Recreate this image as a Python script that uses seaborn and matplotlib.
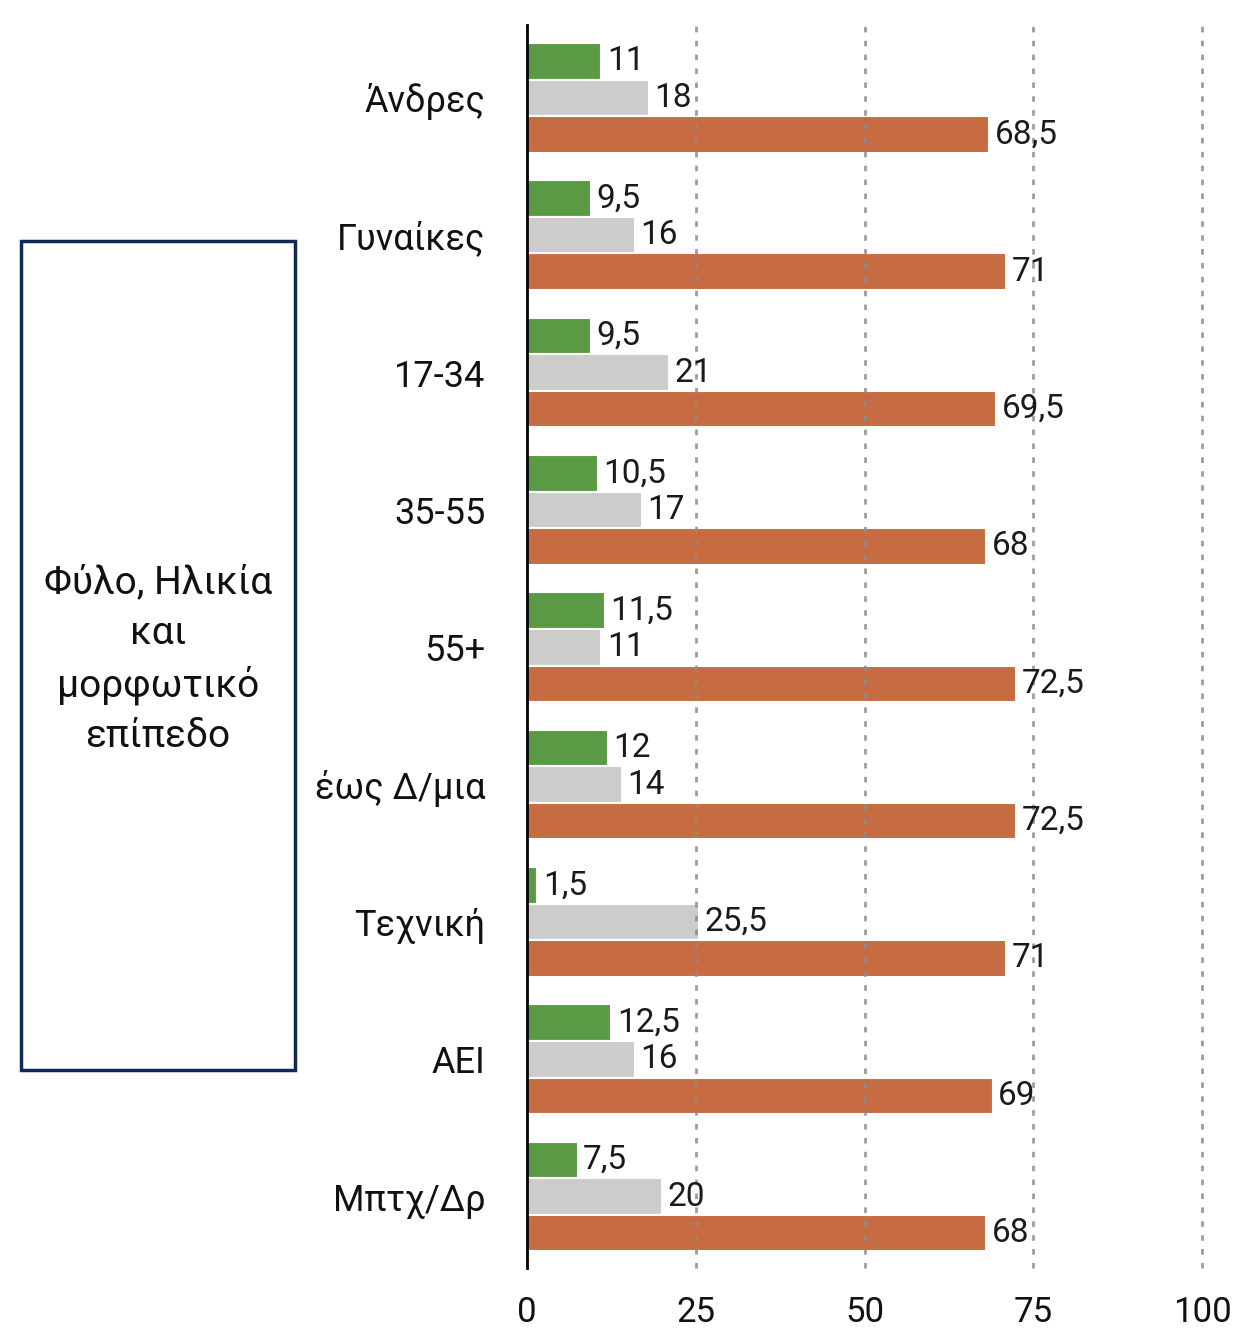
#!/usr/bin/env python3
"""Grouped horizontal bars by gender, age and education level."""

import matplotlib

matplotlib.use("Agg")

import matplotlib.pyplot as plt
import pandas as pd
import seaborn as sns
from matplotlib.patches import Rectangle


CATEGORIES = [
    "Άνδρες",
    "Γυναίκες",
    "17-34",
    "35-55",
    "55+",
    "έως Δ/μια",
    "Τεχνική",
    "ΑΕΙ",
    "Μπτχ/Δρ",
]
SERIES = ["s1", "s2", "s3"]
GREEN_VALUES = [11, 9.5, 9.5, 10.5, 11.5, 12, 1.5, 12.5, 7.5]
GRAY_VALUES = [18, 16, 21, 17, 11, 14, 25.5, 16, 20]
ORANGE_VALUES = [68.5, 71, 69.5, 68, 72.5, 72.5, 71, 69, 68]
X_TICKS = [0, 25, 50, 75, 100]
BOX_TEXT = "Φύλο, Ηλικία\nκαι\nμορφωτικό\nεπίπεδο"

COLORS = ["#5B9A45", "#CCCCCA", "#C76B43"]
FONT = ["Roboto", "DejaVu Sans"]


def build_frame() -> pd.DataFrame:
    rows = []
    for name, values in zip(SERIES, [GREEN_VALUES, GRAY_VALUES, ORANGE_VALUES]):
        for category, value in zip(CATEGORIES, values):
            rows.append({"category": category, "series": name, "value": value})
    return pd.DataFrame(rows)


def fmt(value: float) -> str:
    return f"{value:g}".replace(".", ",")


def main() -> None:
    sns.set_theme(style="white")
    plt.rcParams["font.family"] = FONT

    frame = build_frame()
    fig = plt.figure(figsize=(12.45, 13.33), dpi=100)
    ax = fig.add_axes([0.4233, 0.0488, 0.5422, 0.9324])

    sns.barplot(
        data=frame,
        y="category",
        x="value",
        hue="series",
        order=CATEGORIES,
        hue_order=SERIES,
        palette=COLORS,
        saturation=1,
        orient="h",
        width=0.8,
        edgecolor="white",
        linewidth=1.5,
        legend=False,
        ax=ax,
    )

    for container in ax.containers:
        ax.bar_label(
            container,
            labels=[fmt(bar.get_width()) for bar in container],
            padding=4,
            fontsize=24,
            color="#1A1A1A",
            zorder=5,
        )

    ax.set_xlim(0, 100)
    ax.set_ylim(len(CATEGORIES) - 0.48, -0.53)
    ax.set_xticks(X_TICKS)
    ax.set_xticklabels([str(t) for t in X_TICKS])
    ax.set_xlabel("")
    ax.set_ylabel("")
    ax.tick_params(axis="x", length=0, pad=20, labelsize=25, colors="#111111")
    ax.tick_params(axis="y", length=0, pad=30, labelsize=26, colors="#111111")

    for x in X_TICKS[1:]:
        ax.axvline(x, color="#8C8C8C", linestyle=(0, (2, 3)), linewidth=2,
                   alpha=0.85, zorder=4, clip_on=False)

    for side in ["top", "right", "bottom"]:
        ax.spines[side].set_visible(False)
    ax.spines["left"].set_color("black")
    ax.spines["left"].set_linewidth(2)
    ax.spines["left"].set_zorder(6)

    box = Rectangle(
        (0.0169, 0.1973),
        0.2201,
        0.6219,
        transform=fig.transFigure,
        fill=False,
        edgecolor="#0E2A55",
        linewidth=2.5,
    )
    fig.patches.append(box)
    fig.text(
        0.1269,
        0.505,
        BOX_TEXT,
        ha="center",
        va="center",
        fontsize=28,
        linespacing=1.45,
        color="#111111",
    )

    fig.savefig("out.png", dpi=100)
    plt.close(fig)


if __name__ == "__main__":
    main()
